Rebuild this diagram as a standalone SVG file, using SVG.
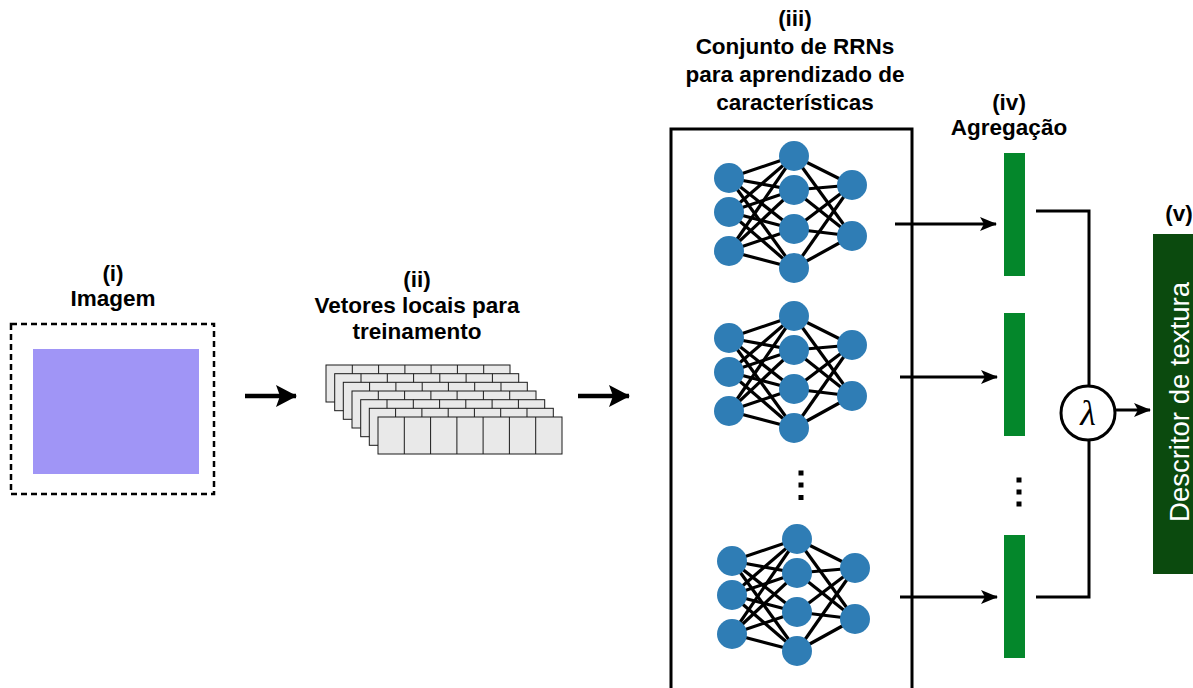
<svg xmlns="http://www.w3.org/2000/svg" xmlns:xlink="http://www.w3.org/1999/xlink" width="1193" height="688" viewBox="0 0 1193 688">
<style>
.lbl{font-family:"Liberation Sans",Arial,Helvetica,sans-serif;font-weight:bold;font-size:22.5px;fill:#000;text-anchor:middle}
.edge{stroke:#000;stroke-width:3;fill:none}
.nn{stroke:#000;stroke-width:3.2}
.node{fill:#2f7db5}
.cell{fill:#e9e9e9;stroke:#1a1a1a;stroke-width:1}
.div{stroke:#1a1a1a;stroke-width:1}
.bar{fill:#04872b}
.dot{fill:#000}
.big{stroke:#000;stroke-width:4.5;fill:none}
</style>
<defs>
<marker id="bigHead" markerUnits="userSpaceOnUse" markerWidth="24" markerHeight="24" refX="20" refY="11" orient="auto">
<path d="M0,0 L21,11 L0,22 L4,11 z" fill="#000"/>
</marker>
<marker id="head" markerUnits="userSpaceOnUse" markerWidth="18" markerHeight="16" refX="16" refY="7" orient="auto">
<path d="M0,0 L17,7 L0,14 L4,7 z" fill="#000"/>
</marker>
<g id="net">
<g class="nn">
<line x1="729" y1="178" x2="794" y2="156"/><line x1="729" y1="178" x2="794" y2="190"/><line x1="729" y1="178" x2="794" y2="229"/><line x1="729" y1="178" x2="794" y2="268"/>
<line x1="729" y1="212" x2="794" y2="156"/><line x1="729" y1="212" x2="794" y2="190"/><line x1="729" y1="212" x2="794" y2="229"/><line x1="729" y1="212" x2="794" y2="268"/>
<line x1="729" y1="251" x2="794" y2="156"/><line x1="729" y1="251" x2="794" y2="190"/><line x1="729" y1="251" x2="794" y2="229"/><line x1="729" y1="251" x2="794" y2="268"/>
<line x1="794" y1="156" x2="852" y2="185"/><line x1="794" y1="156" x2="852" y2="236"/>
<line x1="794" y1="190" x2="852" y2="185"/><line x1="794" y1="190" x2="852" y2="236"/>
<line x1="794" y1="229" x2="852" y2="185"/><line x1="794" y1="229" x2="852" y2="236"/>
<line x1="794" y1="268" x2="852" y2="185"/><line x1="794" y1="268" x2="852" y2="236"/>
</g>
<circle class="node" cx="729" cy="178" r="15"/><circle class="node" cx="729" cy="212" r="15"/><circle class="node" cx="729" cy="251" r="15"/>
<circle class="node" cx="794" cy="156" r="15"/><circle class="node" cx="794" cy="190" r="15"/><circle class="node" cx="794" cy="229" r="15"/><circle class="node" cx="794" cy="268" r="15"/>
<circle class="node" cx="852" cy="185" r="15"/><circle class="node" cx="852" cy="236" r="15"/>
</g>
<g id="layer">
<rect class="cell" x="0" y="0" width="184" height="37"/>
<line class="div" x1="26.3" y1="0" x2="26.3" y2="37"/><line class="div" x1="52.6" y1="0" x2="52.6" y2="37"/><line class="div" x1="78.9" y1="0" x2="78.9" y2="37"/><line class="div" x1="105.1" y1="0" x2="105.1" y2="37"/><line class="div" x1="131.4" y1="0" x2="131.4" y2="37"/><line class="div" x1="157.7" y1="0" x2="157.7" y2="37"/>
</g>
</defs>

<g id="image-node">
<text class="lbl" x="113" y="281">(i)</text>
<text class="lbl" x="113" y="306">Imagem</text>
<rect x="11" y="324" width="203" height="170" fill="none" stroke="#000" stroke-width="2.5" stroke-dasharray="6,4"/>
<rect x="33" y="349" width="166" height="125" fill="#a095f6"/>
</g>

<g id="vectors-node">
<text class="lbl" x="417" y="287">(ii)</text>
<text class="lbl" x="417" y="313">Vetores locais para</text>
<text class="lbl" x="417" y="339">treinamento</text>
<use xlink:href="#layer" transform="translate(326,365)"/>
<use xlink:href="#layer" transform="translate(334.7,373.7)"/>
<use xlink:href="#layer" transform="translate(343.3,382.3)"/>
<use xlink:href="#layer" transform="translate(352,391)"/>
<use xlink:href="#layer" transform="translate(360.7,399.7)"/>
<use xlink:href="#layer" transform="translate(369.3,408.3)"/>
<use xlink:href="#layer" transform="translate(378,417)"/>
</g>

<g id="rrn-node">
<text class="lbl" x="795" y="26">(iii)</text>
<text class="lbl" x="795" y="54">Conjunto de RRNs</text>
<text class="lbl" x="795" y="82">para aprendizado de</text>
<text class="lbl" x="795" y="110">características</text>
<rect x="671" y="129" width="241" height="600" fill="none" stroke="#000" stroke-width="3"/>
<use xlink:href="#net"/>
<use xlink:href="#net" transform="translate(0,160)"/>
<use xlink:href="#net" transform="translate(3,383)"/>
<rect class="dot" x="798.5" y="470.5" width="5" height="5"/>
<rect class="dot" x="798.5" y="482.5" width="5" height="5"/>
<rect class="dot" x="798.5" y="495" width="5" height="5"/>
</g>

<g id="aggregation-node">
<text class="lbl" x="1009" y="110">(iv)</text>
<text class="lbl" x="1009" y="135">Agregação</text>
<rect class="bar" x="1004" y="153" width="21" height="123"/>
<rect class="bar" x="1004" y="313" width="21" height="123"/>
<rect class="bar" x="1004" y="535" width="21" height="123"/>
<rect class="dot" x="1016.5" y="477.5" width="5" height="5"/>
<rect class="dot" x="1016.5" y="489.5" width="5" height="5"/>
<rect class="dot" x="1016.5" y="501.5" width="5" height="5"/>
</g>

<g id="lambda-node">
<circle cx="1088" cy="413" r="27" fill="#fff" stroke="#000" stroke-width="3"/>
<text x="1088" y="425" font-family="'Liberation Serif','Times New Roman',serif" font-style="italic" font-size="36" text-anchor="middle" fill="#000">λ</text>
</g>

<g id="descriptor-node">
<text class="lbl" x="1179" y="221">(v)</text>
<rect x="1153" y="234" width="45" height="340" fill="#0b4a0e"/>
<text transform="translate(1189,402) rotate(-90)" font-family="'Liberation Sans',Arial,sans-serif" font-size="27.5" fill="#fff" text-anchor="middle">Descritor de textura</text>
</g>

<g id="connectors">
<line class="big" x1="245" y1="396" x2="296" y2="396" marker-end="url(#bigHead)"/>
<line class="big" x1="578" y1="396" x2="629" y2="396" marker-end="url(#bigHead)"/>
<line class="edge" x1="895" y1="224" x2="996" y2="224" marker-end="url(#head)"/>
<line class="edge" x1="900" y1="377" x2="997" y2="377" marker-end="url(#head)"/>
<line class="edge" x1="900" y1="597" x2="997" y2="597" marker-end="url(#head)"/>
<polyline class="edge" points="1036,211 1089,211 1089,386"/>
<polyline class="edge" points="1036,597 1089,597 1089,440"/>
<line class="edge" x1="1115" y1="410" x2="1150" y2="410" marker-end="url(#head)"/>
</g>
</svg>
